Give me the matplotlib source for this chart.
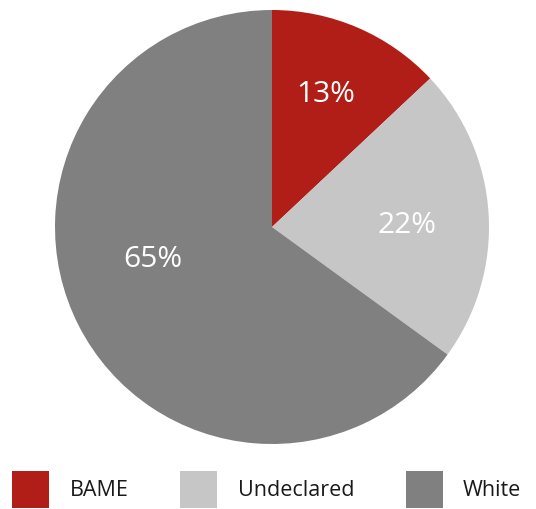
import numpy as np
import matplotlib.pyplot as plt
from matplotlib.patches import Rectangle

categories = ['BAME', 'Undeclared', 'White']
shares = [13, 22, 65]
pct_labels = ['13%', '22%', '65%']
colors = ['#B11E17', '#C5C6C5', '#808080']

plt.rcParams['font.family'] = ['Open Sans', 'DejaVu Sans']

W, H = 536, 509
fig = plt.figure(figsize=(W / 100, H / 100), dpi=100)

# pie area: centre (272,227) px, radius 217 px
ax = fig.add_axes([(272 - 217) / W, (H - 444) / H, 434 / W, 434 / H])
wedges, _ = ax.pie(shares, colors=colors, startangle=90, counterclock=False,
                   radius=1, wedgeprops=dict(linewidth=0))
ax.set_xlim(-1, 1)
ax.set_ylim(-1, 1)
ax.set_aspect('equal')
ax.axis('off')

# label placement: radius fraction and angle shift from wedge middle
label_r = [0.66, 0.62, 0.57]
label_shift = [1.5, -3.0, -12.0]
for w, txt, r, s in zip(wedges, pct_labels, label_r, label_shift):
    ang = np.deg2rad((w.theta1 + w.theta2) / 2 + s)
    ax.text(r * np.cos(ang), r * np.sin(ang), txt, color='white',
            fontsize=21.5, ha='center', va='center')

# legend strip
lax = fig.add_axes([0, 0, 1, 50 / H])
lax.set_xlim(0, W)
lax.set_ylim(50, 0)
lax.axis('off')
box_x = [12, 180, 406]
text_x = [70, 238, 463]
for c, lab, bx, tx in zip(colors, categories, box_x, text_x):
    lax.add_patch(Rectangle((bx, 12), 37, 37, color=c, linewidth=0))
    lax.text(tx, 31, lab, fontsize=15.5, color='#1a1a1a', ha='left', va='center')

fig.savefig('out.png', dpi=100)
